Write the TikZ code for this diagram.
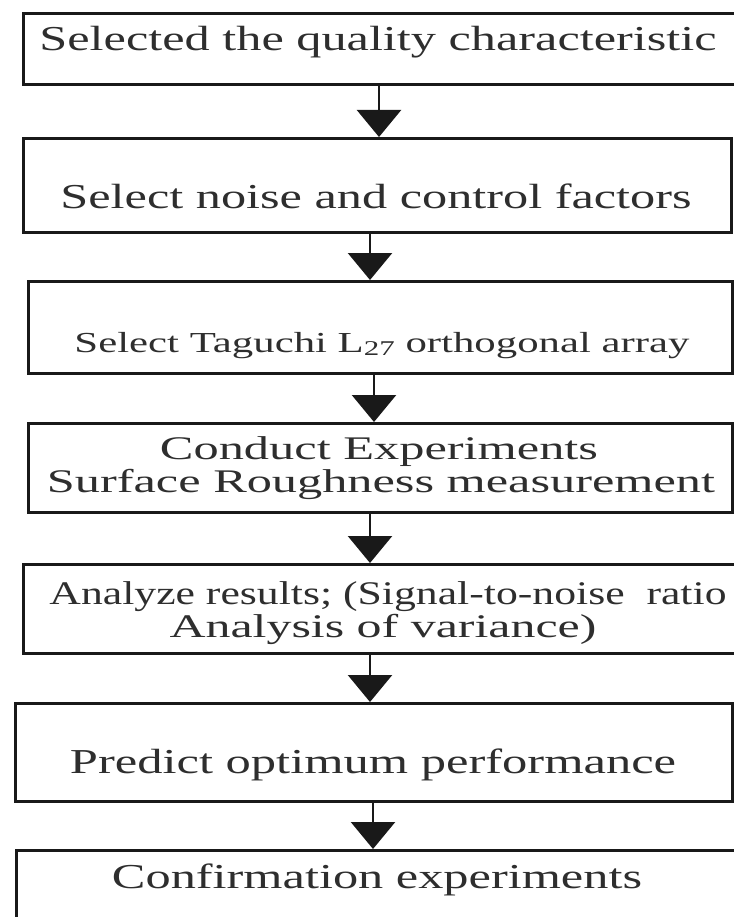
\documentclass[tikz,border=0pt]{standalone}
\usepackage{fontspec}
\setmainfont{Liberation Serif}
\usetikzlibrary{arrows.meta}

% stretch a line of text horizontally to a given width, keeping its height
\newcommand{\widetext}[2]{\resizebox{#1}{\height}{#2}}

\begin{document}
\begin{tikzpicture}[x=1pt, y=-1pt,
  flowbox/.style={draw=black!90, line width=3pt, anchor=north west,
                  inner sep=0pt, fill=white},
  boxtext/.style={anchor=base, inner sep=0pt, text=black!82,
                  font=\fontsize{35}{40}\selectfont},
  smalltext/.style={boxtext, font=\fontsize{29}{34}\selectfont},
  midtext/.style={boxtext, font=\fontsize{33}{38}\selectfont},
  flowarrow/.style={draw=black!90, line width=2.5pt,
                    -{Triangle[width=44pt, length=27pt]}}]

  \useasboundingbox (0,0) rectangle (733,917);

  % process boxes
  \node[flowbox, minimum width=718pt, minimum height=71pt] (b1) at (22,12) {};
  \node[flowbox, minimum width=708pt, minimum height=94pt] (b2) at (22,137) {};
  \node[flowbox, minimum width=704pt, minimum height=92pt] (b3) at (27,280) {};
  \node[flowbox, minimum width=704pt, minimum height=89pt] (b4) at (27,422) {};
  \node[flowbox, minimum width=718pt, minimum height=89pt] (b5) at (22,563) {};
  \node[flowbox, minimum width=717pt, minimum height=98pt] (b6) at (14,702) {};
  \node[flowbox, minimum width=725pt, minimum height=91pt] (b7) at (15,849) {};

  % box labels
  \node[boxtext] (t1) at (378,51)
    {\widetext{677pt}{Selected the quality characteristic}};
  \node[boxtext] (t2) at (376,209)
    {\widetext{631pt}{Select noise and control factors}};
  \node[smalltext] (t3) at (382,352)
    {\widetext{615pt}{Select Taguchi L\raisebox{-0.3ex}{\fontsize{21}{24}\selectfont 27} orthogonal array}};
  \node[midtext] (t4a) at (379,459)
    {\widetext{438pt}{Conduct Experiments}};
  \node[midtext] (t4b) at (381,492)
    {\widetext{668pt}{Surface Roughness measurement}};
  \node[midtext] (t5a) at (388,604)
    {\widetext{677pt}{Analyze results; (Signal-to-noise\ \ ratio}};
  \node[midtext] (t5b) at (383,637)
    {\widetext{427pt}{Analysis of variance)}};
  \node[boxtext] (t6) at (373,773)
    {\widetext{606pt}{Predict optimum performance}};
  \node[boxtext] (t7) at (377,888)
    {\widetext{530pt}{Confirmation experiments}};

  % arrow columns
  \coordinate (a1) at (379,0);
  \coordinate (a2) at (370,0);
  \coordinate (a3) at (374,0);
  \coordinate (a4) at (370,0);
  \coordinate (a5) at (370,0);
  \coordinate (a6) at (373,0);

  % connectors
  \draw[flowarrow] (b1.south -| a1) -- (b2.north -| a1);
  \draw[flowarrow] (b2.south -| a2) -- (b3.north -| a2);
  \draw[flowarrow] (b3.south -| a3) -- (b4.north -| a3);
  \draw[flowarrow] (b4.south -| a4) -- (b5.north -| a4);
  \draw[flowarrow] (b5.south -| a5) -- (b6.north -| a5);
  \draw[flowarrow] (b6.south -| a6) -- (b7.north -| a6);
\end{tikzpicture}
\end{document}
